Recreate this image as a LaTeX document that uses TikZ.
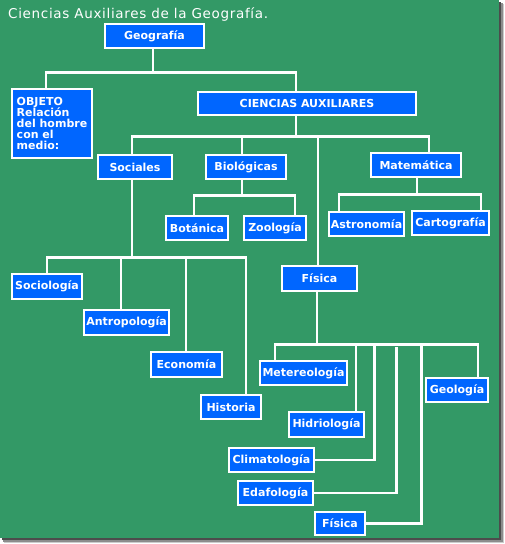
\documentclass[tikz,border=0pt]{standalone}
\usepackage{fontspec}
\setmainfont{DejaVu Sans}
\definecolor{bg}{HTML}{339966}
\definecolor{boxblue}{HTML}{0066FF}
\begin{document}
\begin{tikzpicture}[x=1pt,y=-1pt,
  box/.style={draw=white, line width=1.2pt, fill=boxblue, text=white, inner sep=0pt,
    font=\bfseries\fontsize{11}{11}\selectfont},
  conn/.style={draw=white, line width=2.4pt}]
\fill[white] (0,0) rectangle (504,544);
\fill[black!20] (4,4) rectangle (504,543);
\fill[black!45] (3,3) rectangle (502.5,541.5);
\fill[black!70] (2,2) rectangle (501,540);
\fill[bg] (0,0) rectangle (499,538);
\useasboundingbox (0,0) rectangle (504,544);

\node[anchor=base west, inner sep=0pt, text=white,
  font=\fontsize{13.5}{13.5}\selectfont\addfontfeatures{LetterSpace=5}] (title) at (8,18)
  {Ciencias Auxiliares de la Geografía.};

\node[box, minimum width=99, minimum height=24] (geo) at (154.5,36) {Geografía};
\node[box, minimum width=80, minimum height=69, align=left] (obj) at (52,123.5)
  {OBJETO\\Relación\\del~hombre\\con el\\medio:};
\node[box, minimum width=218, minimum height=23] (cias) at (307,103.5) {CIENCIAS AUXILIARES};
\node[box, minimum width=74, minimum height=24] (soc) at (135,167) {Sociales};
\node[box, minimum width=80, minimum height=24] (bio) at (246,167) {Biológicas};
\node[box, minimum width=90, minimum height=24] (mat) at (416,165) {Matemática};
\node[box, minimum width=62, minimum height=24] (bot) at (197,228) {Botánica};
\node[box, minimum width=62, minimum height=24] (zoo) at (275,228) {Zoología};
\node[box, minimum width=75, minimum height=24] (ast) at (366.5,224) {Astronomía};
\node[box, minimum width=77, minimum height=24] (car) at (450.5,223) {Cartografía};
\node[box, minimum width=70, minimum height=25] (socio) at (47,286.5) {Sociología};
\node[box, minimum width=85, minimum height=25] (antr) at (126.5,322.5) {Antropología};
\node[box, minimum width=71, minimum height=25] (eco) at (186.5,364.5) {Economía};
\node[box, minimum width=60, minimum height=24] (his) at (231,407) {Historia};
\node[box, minimum width=75, minimum height=25] (fis) at (319.5,278.5) {Física};
\node[box, minimum width=87, minimum height=24] (met) at (303.5,373) {Metereología};
\node[box, minimum width=75, minimum height=25] (hid) at (326.5,424.5) {Hidriología};
\node[box, minimum width=85, minimum height=24] (cli) at (271.5,460) {Climatología};
\node[box, minimum width=75, minimum height=24] (eda) at (275.5,493) {Edafología};
\node[box, minimum width=50, minimum height=23] (fis2) at (340,523.5) {Física};
\node[box, minimum width=62, minimum height=24] (geol) at (457,390) {Geología};

% level 1
\draw[conn] ([xshift=-1.5pt]geo.south) -- ++(0,25);
\draw[conn] ([xshift=-6pt]obj.north) -- ++(0,-16) -| ([xshift=-11pt]cias.north);
% level 2
\draw[conn] ([xshift=-11pt]cias.south) -- ++(0,22);
\draw[conn] ([xshift=-3pt]soc.north) -- ++(0,-18) -| ([xshift=13pt]mat.north);
\draw[conn] ([xshift=-4pt]bio.north) -- ++(0,-18);
\draw[conn] ([xshift=-1.5pt]fis.north) -- ++(0,-129);
% biologicas
\draw[conn] ([xshift=-4pt]bio.south) -- ++(0,17);
\draw[conn] ([xshift=-3pt]bot.north) -- ++(0,-20) -| ([xshift=20pt]zoo.north);
% matematica
\draw[conn] ([xshift=1pt]mat.south) -- ++(0,18);
\draw[conn] ([xshift=-27.5pt]ast.north) -- ++(0,-17) -| ([xshift=30.5pt]car.north);
% sociales
\draw[conn] ([xshift=-3pt]soc.south) -- ++(0,79);
\draw[conn] (socio.north) -- ++(0,-16) -| ([xshift=15pt]his.north);
\draw[conn] ([xshift=-5.5pt]antr.north) -- ++(0,-52);
\draw[conn] ([xshift=-0.5pt]eco.north) -- ++(0,-94);
% fisica
\draw[conn] ([xshift=-2.5pt]fis.south) -- ++(0,54);
\draw[conn] ([xshift=-28.5pt]met.north) -- ++(0,-16) -| ([xshift=21pt]geol.north);
\draw[conn] ([xshift=29.5pt]hid.north) -- ++(0,-67);
\draw[conn] (cli.east) -| ++(60,-115);
\draw[conn] (eda.east) -| ++(83,-146);
\draw[conn] (fis2.east) -| ++(56,-178.5);
\end{tikzpicture}
\end{document}
